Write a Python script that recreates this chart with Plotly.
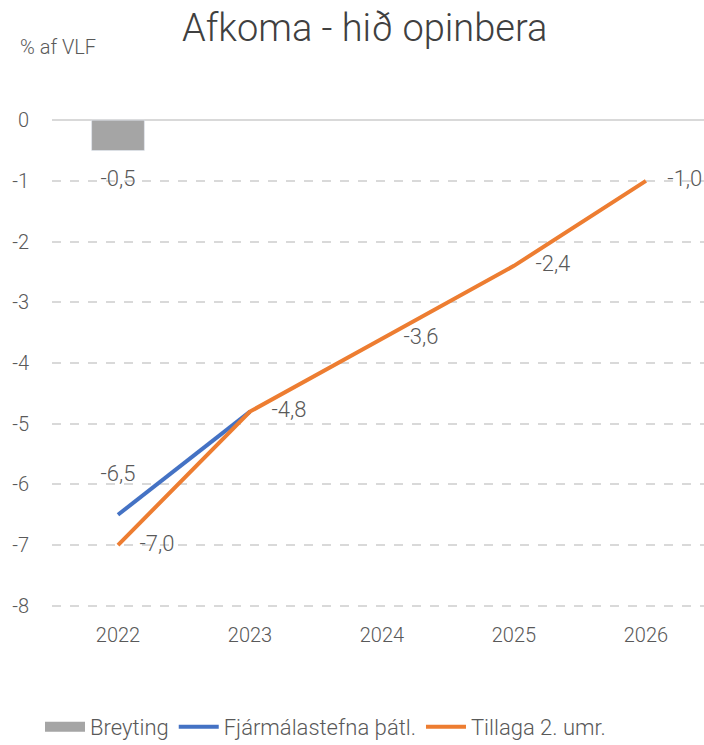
import plotly.graph_objects as go

years = ["2022", "2023", "2024", "2025", "2026"]
breyting = [-0.5]
breyting_labels = ["-0,5"]
fjarmal = [-6.5, -4.8]
fjarmal_labels = ["-6,5", ""]
tillaga = [-7.0, -4.8, -3.6, -2.4, -1.0]
tillaga_labels = ["-7,0", "-4,8", "-3,6", "-2,4", "-1,0"]
yticks = [0, -1, -2, -3, -4, -5, -6, -7, -8]

font = "Roboto"
txtcol = "#595959"
fs = 20
lfs = 22
wt = 300

fig = go.Figure()
fig.add_trace(go.Bar(
    x=years[:1], y=breyting, name="Breyting", marker_color="#A5A5A5",
    width=0.4, text=["<span style='font-size:4px'> </span><br>" + t for t in breyting_labels],
    textposition="outside", showlegend=False,
    textfont=dict(size=lfs, color=txtcol, family=font, weight=wt), cliponaxis=False,
))
# legend entry for the bar series (wide swatch like the original)
fig.add_trace(go.Scatter(
    x=[None], y=[None], name="Breyting", mode="lines",
    line=dict(color="#A5A5A5", width=14),
))
fig.add_trace(go.Scatter(
    x=years[:2], y=fjarmal, name="Fjármálastefna þátl.", mode="lines+text",
    line=dict(color="#4472C4", width=4),
    text=[t + "<br> " if t else t for t in fjarmal_labels],
    textposition=["top center", "middle right"],
    textfont=dict(size=lfs, color=txtcol, family=font, weight=wt), cliponaxis=False,
))
fig.add_trace(go.Scatter(
    x=years, y=tillaga, name="Tillaga 2. umr.", mode="lines+text",
    line=dict(color="#ED7D31", width=4), text=["    " + t for t in tillaga_labels],
    textposition="middle right",
    textfont=dict(size=lfs, color=txtcol, family=font, weight=wt), cliponaxis=False,
))

fig.update_layout(
    width=704, height=745,
    margin=dict(l=52, r=0, t=105, b=124),
    plot_bgcolor="white", paper_bgcolor="white",
    font=dict(family=font, color=txtcol, size=fs, weight=wt),
    title=dict(text="Afkoma - hið opinbera", x=0.518, xanchor="center",
               y=(745 - 28) / 745, yanchor="middle",
               font=dict(size=38, color="#404040", family=font, weight=wt)),
    showlegend=True,
    legend=dict(orientation="h", xref="container", x=40 / 704, xanchor="left",
                yref="container", y=(745 - 727) / 745, yanchor="middle",
                font=dict(size=22, color=txtcol, family=font, weight=wt),
                traceorder="normal", itemwidth=40),
    xaxis=dict(type="category", range=[-0.5, 4.44], showgrid=False, showline=False,
               ticks="", automargin=False,
               tickfont=dict(size=fs, color=txtcol, family=font, weight=wt)),
    yaxis=dict(range=[-8.25, 0.25], tickvals=yticks, ticktext=[str(v) for v in yticks],
               showgrid=True, gridcolor="#D9D9D9", griddash="dash", gridwidth=1.5,
               zeroline=True, zerolinecolor="#D9D9D9", zerolinewidth=1.5,
               ticks="", ticklabelstandoff=22, automargin=False,
               tickfont=dict(size=fs, color=txtcol, family=font, weight=wt)),
    annotations=[dict(text="% af VLF", xref="paper", yref="paper",
                      x=(18 - 52) / 652, xanchor="left", y=(745 - 124 - 47) / 516,
                      yanchor="middle", showarrow=False,
                      font=dict(size=fs, color=txtcol, family=font, weight=wt))],
    bargap=0.6,
)

fig.write_html("out.html", config={"displayModeBar": False},
               post_script="document.body.style.margin='0';")
